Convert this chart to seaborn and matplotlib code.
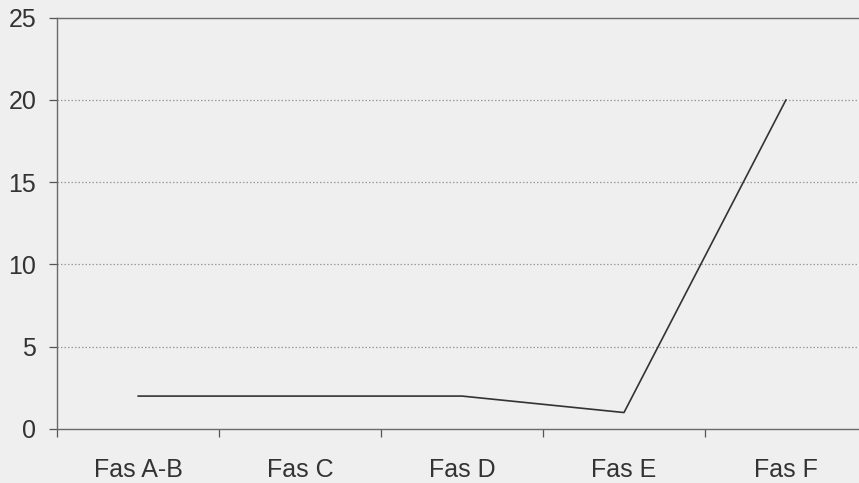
import matplotlib
matplotlib.use("Agg")
import matplotlib.pyplot as plt
import seaborn as sns
import pandas as pd

# Phase labels and measured values
phases = ["Fas A-B", "Fas C", "Fas D", "Fas E", "Fas F"]
values = [2, 2, 2, 1, 20]
y_ticks = [0, 5, 10, 15, 20, 25]

df = pd.DataFrame({"phase": phases, "value": values})

sns.set_theme(style="white")
plt.rcParams["font.family"] = ["Liberation Sans", "DejaVu Sans"]

bg = "#efefef"
ink = "#333333"

fig = plt.figure(figsize=(8.59, 4.83), dpi=100, facecolor=bg)
ax = fig.add_axes([57 / 859, 54 / 483, 810 / 859, 411.5 / 483])
ax.set_facecolor(bg)

sns.lineplot(data=df, x="phase", y="value", sort=False, ax=ax,
             color="#333333", linewidth=1.2)

ax.set_xlim(-0.5, len(phases) - 0.5)
ax.set_ylim(0, 25)
ax.set_yticks(y_ticks)
ax.set_yticklabels([str(t) for t in y_ticks])
ax.set_xlabel("")
ax.set_ylabel("")

# Category ticks sit on the boundaries between phases
ax.set_xticks([i - 0.5 for i in range(len(phases))], minor=False)
ax.set_xticklabels([])
ax.set_xticks(range(len(phases)), minor=True)
ax.set_xticklabels(phases, minor=True)

ax.tick_params(axis="x", which="major", direction="out", length=6,
               width=0.9, color="#555555", bottom=True)
ax.tick_params(axis="x", which="minor", length=0, pad=21,
               labelsize=18, labelcolor=ink)
ax.tick_params(axis="y", direction="out", length=6, width=0.9,
               color="#555555", left=True, pad=9, labelsize=18,
               labelcolor=ink)

# Dotted horizontal gridlines between the zero line and the top border
for t in y_ticks[1:-1]:
    ax.axhline(t, color="#9a9a9a", linestyle=(0, (1.2, 1.6)),
               linewidth=0.9, zorder=0)

for side in ["left", "bottom", "top"]:
    ax.spines[side].set_visible(True)
    ax.spines[side].set_color("#6a6a6a")
    ax.spines[side].set_linewidth(1.0)
ax.spines["right"].set_visible(False)

fig.savefig("out.png", dpi=100, facecolor=bg)
